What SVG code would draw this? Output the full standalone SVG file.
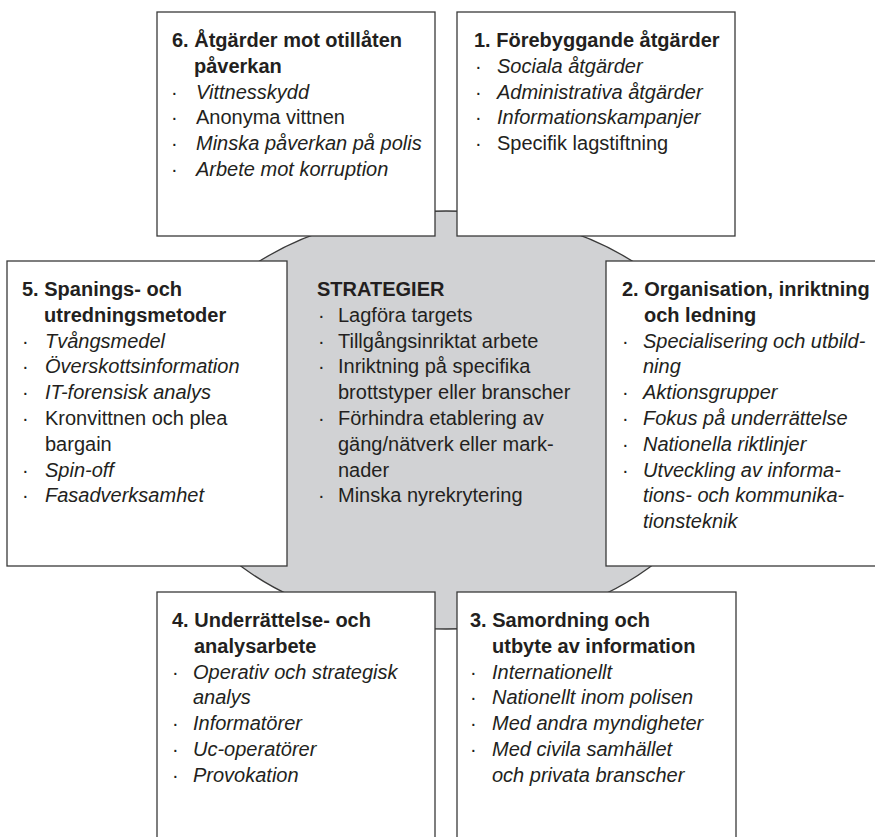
<svg xmlns="http://www.w3.org/2000/svg" width="875" height="837" viewBox="0 0 875 837">
<style>
.box{fill:#ffffff;stroke:#3a3a3a;stroke-width:1.3}
.core{fill:#d1d2d4;stroke:#3a3a3a;stroke-width:1.3}
text{font-family:"Liberation Sans",Arial,Helvetica,sans-serif;font-size:20px;fill:#231f20}
.h{font-weight:bold}
.i{font-style:italic}
</style>
<rect width="875" height="837" fill="#ffffff"/>
<g id="strategier">
<ellipse class="core" cx="446" cy="420" rx="287" ry="209"/>
<text x="317" y="296" class="h">STRATEGIER</text>
<text x="318" y="321.8">·</text><text x="338" y="321.8">Lagföra targets</text>
<text x="318" y="347.6">·</text><text x="338" y="347.6">Tillgångsinriktat arbete</text>
<text x="318" y="373.4">·</text><text x="338" y="373.4">Inriktning på specifika</text>
<text x="338" y="399.2">brottstyper eller branscher</text>
<text x="318" y="425">·</text><text x="338" y="425">Förhindra etablering av</text>
<text x="338" y="450.8">gäng/nätverk eller mark-</text>
<text x="338" y="476.6">nader</text>
<text x="318" y="502.4">·</text><text x="338" y="502.4">Minska nyrekrytering</text>
</g>
<g id="connectors"></g>
<g id="box6">
<rect class="box" x="157" y="12" width="278" height="224"/>
<text x="172" y="47" class="h">6. Åtgärder mot otillåten</text>
<text x="194" y="72.8" class="h">påverkan</text>
<text x="171" y="98.6">·</text><text x="196" y="98.6" class="i">Vittnesskydd</text>
<text x="171" y="124.4">·</text><text x="196" y="124.4">Anonyma vittnen</text>
<text x="171" y="150.2">·</text><text x="196" y="150.2" class="i">Minska påverkan på polis</text>
<text x="171" y="176">·</text><text x="196" y="176" class="i">Arbete mot korruption</text>
</g>
<g id="box1">
<rect class="box" x="457" y="12" width="278" height="224"/>
<text x="474" y="47" class="h">1. Förebyggande åtgärder</text>
<text x="475" y="72.8">·</text><text x="497" y="72.8" class="i">Sociala åtgärder</text>
<text x="475" y="98.6">·</text><text x="497" y="98.6" class="i">Administrativa åtgärder</text>
<text x="475" y="124.4">·</text><text x="497" y="124.4" class="i">Informationskampanjer</text>
<text x="475" y="150.2">·</text><text x="497" y="150.2">Specifik lagstiftning</text>
</g>
<g id="box5">
<rect class="box" x="7" y="261" width="280" height="305"/>
<text x="22" y="296" class="h">5. Spanings- och</text>
<text x="44" y="321.8" class="h">utredningsmetoder</text>
<text x="22" y="347.6">·</text><text x="45" y="347.6" class="i">Tvångsmedel</text>
<text x="22" y="373.4">·</text><text x="45" y="373.4" class="i">Överskottsinformation</text>
<text x="22" y="399.2">·</text><text x="45" y="399.2" class="i">IT-forensisk analys</text>
<text x="22" y="425">·</text><text x="45" y="425">Kronvittnen och plea</text>
<text x="45" y="450.8">bargain</text>
<text x="22" y="476.6">·</text><text x="45" y="476.6" class="i">Spin-off</text>
<text x="22" y="502.4">·</text><text x="45" y="502.4" class="i">Fasadverksamhet</text>
</g>
<g id="box2">
<rect class="box" x="606" y="261" width="280" height="305"/>
<text x="622" y="296" class="h">2. Organisation, inriktning</text>
<text x="644" y="321.8" class="h">och ledning</text>
<text x="622" y="347.6">·</text><text x="643" y="347.6" class="i">Specialisering och utbild-</text>
<text x="643" y="373.4" class="i">ning</text>
<text x="622" y="399.2">·</text><text x="643" y="399.2" class="i">Aktionsgrupper</text>
<text x="622" y="425">·</text><text x="643" y="425" class="i">Fokus på underrättelse</text>
<text x="622" y="450.8">·</text><text x="643" y="450.8" class="i">Nationella riktlinjer</text>
<text x="622" y="476.6">·</text><text x="643" y="476.6" class="i">Utveckling av informa-</text>
<text x="643" y="502.4" class="i">tions- och kommunika-</text>
<text x="643" y="528.2" class="i">tionsteknik</text>
</g>
<g id="box4">
<rect class="box" x="157" y="592" width="278" height="260"/>
<text x="172" y="627" class="h">4. Underrättelse- och</text>
<text x="194" y="652.8" class="h">analysarbete</text>
<text x="172" y="678.6">·</text><text x="193" y="678.6" class="i">Operativ och strategisk</text>
<text x="193" y="704.4" class="i">analys</text>
<text x="172" y="730.2">·</text><text x="193" y="730.2" class="i">Informatörer</text>
<text x="172" y="756">·</text><text x="193" y="756" class="i">Uc-operatörer</text>
<text x="172" y="781.8">·</text><text x="193" y="781.8" class="i">Provokation</text>
</g>
<g id="box3">
<rect class="box" x="457" y="592" width="279" height="260"/>
<text x="470" y="627" class="h">3. Samordning och</text>
<text x="492" y="652.8" class="h">utbyte av information</text>
<text x="470" y="678.6">·</text><text x="492" y="678.6" class="i">Internationellt</text>
<text x="470" y="704.4">·</text><text x="492" y="704.4" class="i">Nationellt inom polisen</text>
<text x="470" y="730.2">·</text><text x="492" y="730.2" class="i">Med andra myndigheter</text>
<text x="470" y="756">·</text><text x="492" y="756" class="i">Med civila samhället</text>
<text x="492" y="781.8" class="i">och privata branscher</text>
</g>
</svg>
